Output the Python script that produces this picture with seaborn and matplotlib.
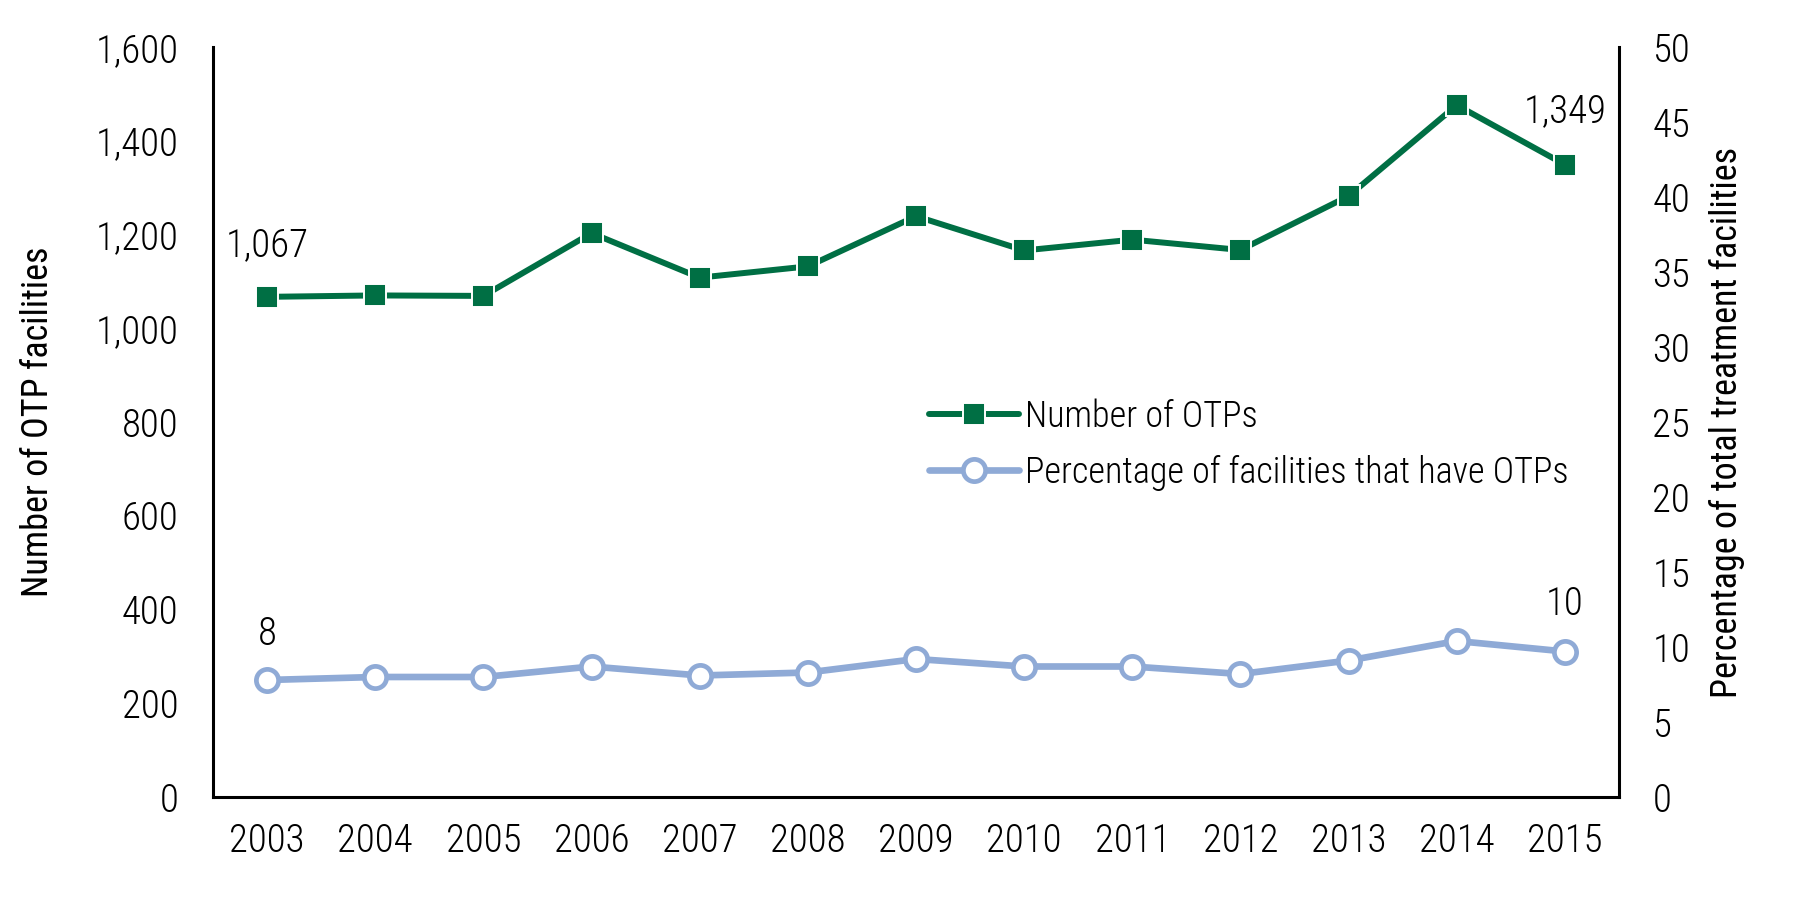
import matplotlib
matplotlib.use("Agg")
import matplotlib.pyplot as plt
from matplotlib import font_manager
import seaborn as sns
import pandas as pd
from matplotlib.lines import Line2D

years = ["2003", "2004", "2005", "2006", "2007", "2008", "2009",
         "2010", "2011", "2012", "2013", "2014", "2015"]
otp_counts = [1067, 1070, 1069, 1203, 1108, 1132, 1239, 1166, 1189, 1167, 1282, 1476, 1349]
otp_pct = [7.8, 8.0, 8.0, 8.7, 8.1, 8.3, 9.2, 8.7, 8.7, 8.2, 9.1, 10.4, 9.7]
left_ticks = [0, 200, 400, 600, 800, 1000, 1200, 1400, 1600]
right_ticks = [0, 5, 10, 15, 20, 25, 30, 35, 40, 45, 50]
series_names = ["Number of OTPs", "Percentage of facilities that have OTPs"]

GREEN = "#006F44"
BLUE = "#8FAAD6"

sns.set_theme(style="white")

# pick a condensed font if one is installed
names = {f.name for f in font_manager.fontManager.ttflist}
stretch = "normal"
family = ["DejaVu Sans"]
for cand in ["Liberation Sans Narrow", "Roboto Condensed", "Noto Sans Condensed",
             "Open Sans Condensed", "DejaVu Sans Condensed"]:
    if cand in names:
        family = [cand, "DejaVu Sans"]
        break
else:
    cond = [f for f in font_manager.fontManager.ttflist
            if f.stretch in ("condensed", "semi-condensed", 87.5, 75, 62.5)
            or "Condensed" in f.fname or "Narrow" in f.fname]
    pref = ["Roboto", "Noto Sans", "Open Sans", "DejaVu Sans", "Liberation Sans"]
    chosen = None
    for p in pref:
        for f in cond:
            if f.name == p and f.style == "normal":
                chosen = f
                break
        if chosen:
            break
    if chosen is not None:
        family = [chosen.name, "DejaVu Sans"]
        stretch = "condensed"

plt.rcParams["font.family"] = family
plt.rcParams["font.stretch"] = stretch
plt.rcParams["font.weight"] = "light"
plt.rcParams["text.color"] = "black"
plt.rcParams["axes.labelcolor"] = "black"
FS = 28
FS_LAB = 26
FS_LEG = 26

df = pd.DataFrame({"year": years, "otp": otp_counts, "pct": otp_pct})

fig = plt.figure(figsize=(18.01, 9.0), dpi=100)
ax = fig.add_axes([213 / 1801, 1 - 797 / 900, (1619 - 213) / 1801, (797 - 47) / 900])
ax2 = ax.twinx()

sns.lineplot(data=df, x="year", y="otp", ax=ax, color=GREEN, linewidth=4.3,
             marker="s", markersize=16.5, markeredgecolor="white", markeredgewidth=1.4,
             zorder=3)
sns.lineplot(data=df, x="year", y="pct", ax=ax2, color=BLUE, linewidth=4.8,
             marker="o", markersize=16, markerfacecolor="white", markeredgecolor=BLUE,
             markeredgewidth=3.4, zorder=3)

ax.set_xlim(-0.5, len(years) - 0.5)
ax.set_ylim(0, 1600)
ax2.set_ylim(0, 50)
ax.set_yticks(left_ticks)
ax.set_yticklabels([f"{v:,}" for v in left_ticks])
ax2.set_yticks(right_ticks)
ax2.set_yticklabels([str(v) for v in right_ticks])

ax.set_xlabel("")
ax.set_ylabel("Number of OTP facilities", fontsize=FS_LAB, fontweight="normal")
ax2.set_ylabel("Percentage of total treatment facilities", fontsize=FS_LAB,
               fontweight="normal")
ax.yaxis.set_label_coords(-157 / 1406, 0.5)
ax2.yaxis.set_label_coords(1 + 90 / 1406, 0.5)

ax.tick_params(axis="both", length=0, labelsize=FS, colors="black")
ax.tick_params(axis="y", pad=25)
ax.tick_params(axis="x", pad=18)
ax2.tick_params(axis="y", length=0, labelsize=FS, pad=24, colors="black")

for a in (ax, ax2):
    for s in a.spines.values():
        s.set_visible(False)
    a.grid(False)
ax.spines["left"].set_visible(True)
ax.spines["bottom"].set_visible(True)
ax2.spines["right"].set_visible(True)
for s in (ax.spines["left"], ax.spines["bottom"], ax2.spines["right"]):
    s.set_color("black")
    s.set_linewidth(2.2)

# end-point annotations
ax.annotate(f"{otp_counts[0]:,}", (0, otp_counts[0]), xytext=(0, 37),
            textcoords="offset points", ha="center", va="center", fontsize=FS)
ax.annotate(f"{otp_counts[-1]:,}", (len(years) - 1, otp_counts[-1]), xytext=(0, 38),
            textcoords="offset points", ha="center", va="center", fontsize=FS)
ax2.annotate(f"{round(otp_pct[0])}", (0, otp_pct[0]), xytext=(0, 33),
             textcoords="offset points", ha="center", va="center", fontsize=FS)
ax2.annotate(f"{round(otp_pct[-1])}", (len(years) - 1, otp_pct[-1]), xytext=(0, 34),
             textcoords="offset points", ha="center", va="center", fontsize=FS)

handles = [
    Line2D([], [], color=GREEN, linewidth=4.3, marker="s", markersize=16.5,
           markeredgecolor="white", markeredgewidth=1.4),
    Line2D([], [], color=BLUE, linewidth=4.8, marker="o", markersize=16,
           markerfacecolor="white", markeredgecolor=BLUE, markeredgewidth=3.4),
]
leg = ax2.legend(handles, series_names, loc="center left",
                 bbox_to_anchor=(929 / 1801, 1 - 445 / 900), bbox_transform=fig.transFigure,
                 frameon=False, fontsize=FS_LEG, handlelength=2.5, handletextpad=0.15,
                 borderpad=0, borderaxespad=0, labelspacing=0.55)
for t in leg.get_texts():
    t.set_color("black")

fig.savefig("out.png", dpi=100, facecolor="white")
